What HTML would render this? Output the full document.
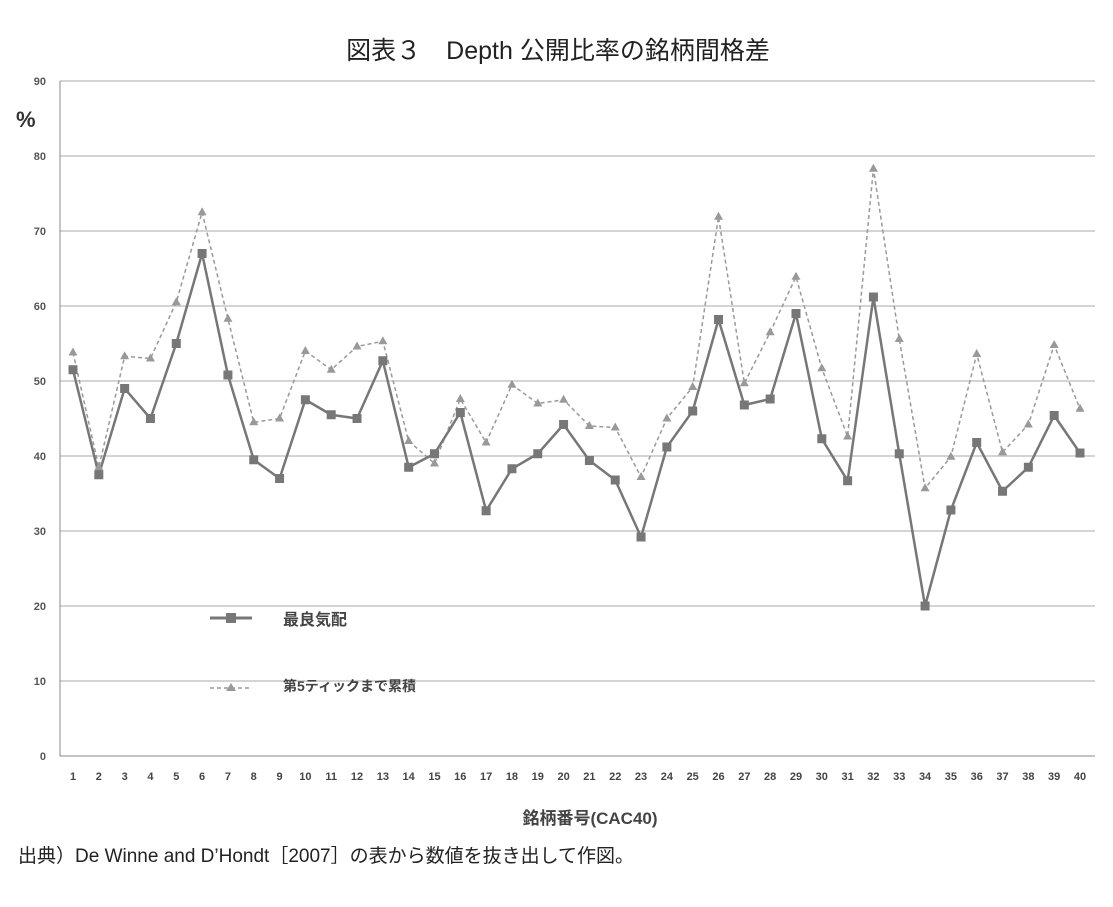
<!DOCTYPE html>
<html><head><meta charset="utf-8"><style>
body{margin:0;background:#fff;width:1113px;height:902px;overflow:hidden}
text{font-family:"Liberation Sans","Noto Sans CJK JP",sans-serif}
</style></head><body>
<svg width="1113" height="902">
<text x="558" y="59" font-size="25" text-anchor="middle" fill="#222">図表３　Depth 公開比率の銘柄間格差</text>
<text x="16" y="127" font-size="22" font-weight="bold" fill="#333">%</text>
<g id="grid"></g><g id="series"></g>
<g>
<line x1="210" y1="618" x2="252" y2="618" stroke="#777" stroke-width="3"/>
<rect x="226" y="613" width="10" height="10" fill="#777"/>
<text x="283" y="625" font-size="16" font-weight="bold" fill="#444">最良気配</text>
<line x1="210" y1="688" x2="252" y2="688" stroke="#999" stroke-width="1.5" stroke-dasharray="4,3"/>
<polygon points="231,683 236,691 226,691" fill="#999"/>
<text x="283" y="691" font-size="14" font-weight="bold" fill="#444">第5ティックまで累積</text>
</g>
<text x="590" y="824" font-size="17" font-weight="bold" text-anchor="middle" fill="#444">銘柄番号(CAC40)</text>
<text x="18" y="862" font-size="19" fill="#222">出典）De Winne and D’Hondt［2007］の表から数値を抜き出して作図。</text>
</svg>
<script>
const categories=[];for(let i=1;i<=40;i++)categories.push(i);
const yTicks=[0,10,20,30,40,50,60,70,80,90];
const bestQuote=[51.5,37.5,49,45,55,67,50.8,39.5,37,47.5,45.5,45,52.7,38.5,40.3,45.8,32.7,38.3,40.3,44.2,39.4,36.8,29.2,41.2,46,58.2,46.8,47.6,59,42.3,36.7,61.2,40.3,20,32.8,41.8,35.3,38.5,45.4,40.4];
const cumulative5=[53.8,38.5,53.3,53,60.5,72.5,58.3,44.5,45,54,51.5,54.6,55.3,42,39,47.6,41.8,49.5,47,47.5,44,43.8,37.2,45,49.2,71.9,49.7,56.5,63.9,51.7,42.6,78.3,55.6,35.7,39.9,53.6,40.5,44.2,54.8,46.3];
const NS="http://www.w3.org/2000/svg";
const x=i=>73+(i-1)*(1080-73)/39;
const y=v=>756-v*7.5;
function mk(t,a,p){const e=document.createElementNS(NS,t);for(const k in a)e.setAttribute(k,a[k]);p.appendChild(e);return e;}
const g=document.getElementById('grid');
yTicks.forEach(t=>{
 const l=mk('line',{x1:60,x2:1095,y1:y(t),y2:y(t),stroke:t===0?'#888':'#aaa','stroke-width':1},g);
 
 
 const tx=mk('text',{x:46,y:y(t)+4,'font-size':11,'font-weight':'bold','text-anchor':'end',fill:'#555'},g);tx.textContent=t;
 
 
});
const ax=mk('line',{x1:60,x2:60,y1:81,y2:756,stroke:'#888'},g);


categories.forEach(c=>{
 const tx=mk('text',{x:x(c),y:780,'font-size':11,'font-weight':'bold','text-anchor':'middle',fill:'#444'},g);tx.textContent=c;
 
 
});
const s=document.getElementById('series');
const p2=mk('polyline',{points:cumulative5.map((v,i)=>x(categories[i])+','+y(v)).join(' '),fill:'none',stroke:'#999','stroke-width':1.5,'stroke-dasharray':'4,3'},s);


const p1=mk('polyline',{points:bestQuote.map((v,i)=>x(categories[i])+','+y(v)).join(' '),fill:'none',stroke:'#777','stroke-width':2.5},s);


cumulative5.forEach((v,i)=>{const cx=x(categories[i]),cy=y(v);
 const m=mk('polygon',{points:`${cx},${cy-5} ${cx+4.5},${cy+3} ${cx-4.5},${cy+3}`,fill:'#999'},s);
 
 });
bestQuote.forEach((v,i)=>{
 const m=mk('rect',{x:x(categories[i])-4.5,y:y(v)-4.5,width:9,height:9,fill:'#777'},s);
 
 });
</script>
</body></html>
